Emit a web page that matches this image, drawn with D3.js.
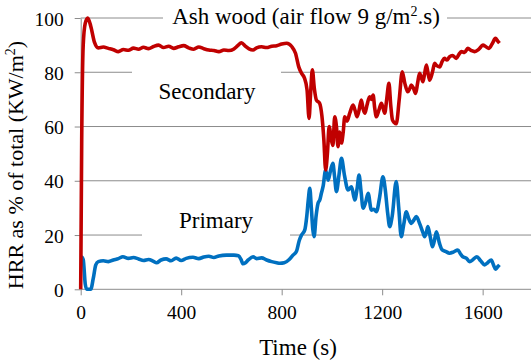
<!DOCTYPE html>
<html>
<head>
<meta charset="utf-8">
<script src="https://cdn.jsdelivr.net/npm/d3@7"></script>
<style>
  html, body { margin: 0; padding: 0; background: #fff; }
  svg { display: block; }
  svg text { font-family: "Liberation Serif", "Times New Roman", serif !important; fill: #000; }
</style>
</head>
<body>
<svg id="chart" width="531" height="363"></svg>
<script>
// Secondary combustion share (% of total HRR) over time
const timeSecondary = [0,4,10,18,28,40,55,70,90,110,130,150,170,190,210,230,250,270,290,310,330,350,370,390,410,430,450,470,490,510,530,550,570,590,610,625,640,655,670,686,700,720,740,760,780,800,820,840,855,868,880,890,901,909,915,922,930,938,951,960,968,975,982,989,998,1004,1011,1018,1024,1031,1038,1045,1051,1060,1071,1084,1092,1100,1108,1117,1124,1131,1140,1150,1157,1164,1170,1177,1187,1197,1203,1210,1218,1227,1234,1241,1248,1256,1268,1280,1290,1302,1310,1316,1325,1333,1341,1349,1356,1362,1369,1376,1382,1389,1400,1409,1416,1429,1439,1448,1458,1468,1480,1495,1505,1515,1528,1541,1555,1568,1585,1601,1612,1625,1638,1651,1660,1667];
const secondary = [0,55,90,98,100,97,91,89,89.3,88.8,88.3,87.6,88.4,88.1,88.9,88.5,89.2,88.7,89.5,90,89.1,89.6,88.8,89.4,89.8,89,88.5,89.3,88.7,88.2,88,87.6,88.2,88,88.6,89.8,90.9,89.6,88.6,88.2,89,89.4,89.1,89.6,89.8,90.4,90.7,89.5,87,82,79.5,78,73.5,63,72,80.9,74,69.8,68.6,64,55,44,50,60,55,53,63.6,60,52.6,58,53.9,58,63.6,62,64.9,67.9,66,63.6,66,69.8,66.5,64.9,68,71,70,71.6,67,63.6,66,68.6,67,64.9,70,75.9,68,62.4,61.5,61,70,80.2,76,72.8,74,75.3,74,72.2,76,79.6,78,76.5,79.5,82.7,80,77.1,80,83.3,82.5,82,84,85.1,84.5,85.7,86.2,85.1,86.5,87.6,87.3,88.8,88,87.6,88.5,90,89.5,88.8,90.5,92.5,91.5,90.7];

// Primary combustion share (% of total HRR) over time
const timePrimary = [3,10,18,24,40,50,60,70,90,110,130,150,168,190,210,230,250,270,290,302,320,340,360,380,400,420,447,470,490,510,530,550,580,610,628,638,646,656,668,686,700,720,740,760,780,793,810,830,845,859,870,879,892,900,906,912,918,924,929,937,945,952,958,965,975,985,995,1004,1010,1018,1028,1038,1050,1064,1078,1091,1100,1108,1116,1124,1134,1144,1157,1167,1177,1190,1203,1212,1222,1230,1240,1256,1266,1276,1286,1296,1306,1316,1326,1336,1350,1362,1369,1376,1382,1392,1400,1408,1416,1428,1439,1452,1468,1485,1501,1512,1521,1535,1548,1562,1577,1592,1608,1620,1634,1644,1651,1659,1667];
const primary = [12,11,2,0,0,4,9,10.2,10.5,10.2,10.8,11.3,12,11.4,11.7,11.2,10.6,11,10.3,9.8,10.8,11.2,10.5,11.5,10.6,11.4,11.8,11.3,11.9,12.2,11.7,12.3,12.6,12.6,12.4,11,9.4,9.8,10.9,12,11.3,11.6,10.8,10.2,9.8,9.6,9.8,11,12.6,14,18,20,21.9,27,33,37.2,30,22,19.4,27,31.8,33,35.4,38,44,40.2,44,46.4,42,36,42,48.3,42,36.6,37.8,32.9,37,42.1,36,29.9,32,35.4,29.2,29.5,28.6,34,41.5,37,28,23.1,27,39.7,30,19.4,24,28.6,26,24.3,25.5,26.8,24,21,19.4,21,23.1,19,15.7,18,21.2,17,14.5,14,13.3,13.8,14.5,13,12,11.5,10.2,11,12,10.5,9,9.8,10.8,8.8,7.4,8.2,9];

const xTicks = [0, 400, 800, 1200, 1600];
const yTicks = [0, 20, 40, 60, 80, 100];

const svg = d3.select("#chart");
const plotLeft = 80.7, plotRight = 532.9, plotTop = 18, plotBottom = 289.3;
const serif = '"Liberation Serif", "Times New Roman", serif';

const x = d3.scaleLinear().domain([0, 1800]).range([plotLeft, plotRight]);
const y = d3.scaleLinear().domain([0, 100]).range([plotBottom, plotTop]);

const grey = "#8c8c8c";

// horizontal gridlines
svg.append("g").selectAll("line")
  .data(yTicks.filter(d => d > 0))
  .join("line")
  .attr("x1", plotLeft).attr("x2", 531)
  .attr("y1", d => y(d)).attr("y2", d => y(d))
  .attr("stroke", grey).attr("stroke-width", 1);

// y axis
const yAxis = svg.append("g")
  .attr("transform", `translate(${plotLeft},0)`)
  .call(d3.axisLeft(y).tickValues(yTicks).tickFormat(d3.format("d"))
    .tickSize(6).tickPadding(11).tickSizeOuter(0));
yAxis.attr("font-family", null);
yAxis.select(".domain").attr("stroke", grey);
yAxis.selectAll(".tick line").attr("stroke", grey);
yAxis.selectAll(".tick text")
  .style("font-family", serif).style("font-size", "19.5px")
  .attr("fill", "#000").attr("dy", "0.36em");

// x axis
const xAxis = svg.append("g")
  .attr("transform", `translate(0,${plotBottom})`)
  .call(d3.axisBottom(x).tickValues(xTicks).tickFormat(d3.format("d"))
    .tickSize(6).tickPadding(10).tickSizeOuter(0));
xAxis.attr("font-family", null);
xAxis.select(".domain").attr("stroke", grey).attr("d", `M${plotLeft},0H531`);
xAxis.selectAll(".tick line").attr("stroke", grey);
xAxis.selectAll(".tick text")
  .style("font-family", serif).style("font-size", "19.5px")
  .attr("fill", "#000");

// series
const lineSec = d3.line()
  .x((d, i) => x(timeSecondary[i]))
  .y(d => y(d))
  .curve(d3.curveMonotoneX);
const linePri = d3.line()
  .x((d, i) => x(timePrimary[i]))
  .y(d => y(d))
  .curve(d3.curveMonotoneX);

svg.append("path")
  .datum(primary)
  .attr("d", linePri)
  .attr("fill", "none")
  .attr("stroke", "#0070C0")
  .attr("stroke-width", 3.6)
  .attr("stroke-linejoin", "round");

svg.append("path")
  .datum(secondary)
  .attr("d", lineSec)
  .attr("fill", "none")
  .attr("stroke", "#C00000")
  .attr("stroke-width", 3.6)
  .attr("stroke-linejoin", "round");

// labels on white boxes
function boxedLabel(cx, baseline, boxX0, boxX1, boxY0, boxY1) {
  svg.append("rect")
    .attr("x", boxX0).attr("y", boxY0)
    .attr("width", boxX1 - boxX0).attr("height", boxY1 - boxY0)
    .attr("fill", "#fff");
  return svg.append("text")
    .attr("x", cx).attr("y", baseline)
    .attr("text-anchor", "middle")
    .style("font-family", serif)
    .style("font-size", "23px");
}

const title = boxedLabel(306, 24, 163, 447, 4, 32);
title.append("tspan").text("Ash wood (air flow 9 g/m");
title.append("tspan").style("font-size", "14px").attr("dy", "-8").text("2");
title.append("tspan").attr("dy", "8").text(".s)");

boxedLabel(207, 99, 132, 281, 66, 116).text("Secondary");
boxedLabel(216, 228, 142, 290, 200, 242).text("Primary");

// axis titles
svg.append("text")
  .attr("x", 298).attr("y", 355)
  .attr("text-anchor", "middle")
  .style("font-family", serif)
  .style("font-size", "23px")
  .text("Time (s)");

const yTitle = svg.append("text")
  .attr("transform", "translate(23,165) rotate(-90)")
  .attr("text-anchor", "middle")
  .style("font-family", serif)
  .style("font-size", "22px");
yTitle.append("tspan").text("HRR  as % of total  (KW/m");
yTitle.append("tspan").style("font-size", "14px").attr("dy", "-8").text("2");
yTitle.append("tspan").attr("dy", "8").text(")");
</script>
</body>
</html>
